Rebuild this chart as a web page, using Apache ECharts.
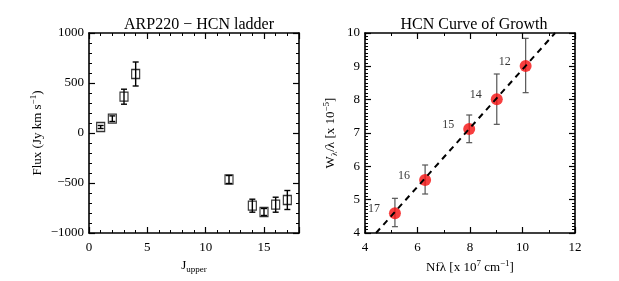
<!DOCTYPE html>
<html>
<head>
<meta charset="utf-8">
<script src="https://cdn.jsdelivr.net/npm/echarts@6/dist/echarts.min.js"></script>
<style>html,body{margin:0;padding:0;background:#fff}#c{width:619px;height:281px}</style>
</head>
<body>
<div id="c"></div>
<script>
// Left panel: HCN ladder
var ladderJ = [1, 2, 3, 4, 12, 14, 15, 16, 17];
var ladderFlux = [60, 143, 363, 590, -465, -727, -790, -717, -670];
var ladderErr = [15, 28, 75, 120, 40, 65, 35, 75, 95];
var ladderXTicks = [0, 5, 10, 15];
var ladderYTicks = [-1000, -500, 0, 500, 1000];

// Right panel: curve of growth
var cogX = [5.14, 6.29, 7.97, 9.02, 10.12];
var cogY = [4.59, 5.59, 7.12, 8.01, 9.01];
var cogLo = [4.19, 5.17, 6.71, 7.26, 8.21];
var cogHi = [5.04, 6.04, 7.54, 8.77, 9.84];
var cogJ = ['17', '16', '15', '14', '12'];
var cogXTicks = [4, 6, 8, 10, 12];
var cogYTicks = [4, 5, 6, 7, 8, 9, 10];
var fitX = [4.42, 11.24];
var fitY = [4.0, 10.0];

var FONT = 'Liberation Serif';
var chart = echarts.init(document.getElementById('c'), null, {renderer: 'canvas'});

function errRender(color, lw, hw) {
  return function (params, api) {
    var x = api.value(0), lo = api.value(1), hi = api.value(2);
    var t = api.coord([x, hi]), b = api.coord([x, lo]);
    var st = {stroke: color, lineWidth: lw};
    return {type: 'group', children: [
      {type: 'line', shape: {x1: t[0], y1: t[1], x2: b[0], y2: b[1]}, style: st},
      {type: 'line', shape: {x1: t[0] - hw, y1: t[1], x2: t[0] + hw, y2: t[1]}, style: st},
      {type: 'line', shape: {x1: b[0] - hw, y1: b[1], x2: b[0] + hw, y2: b[1]}, style: st}
    ]};
  };
}

var axisLine = {show: true, onZero: false, lineStyle: {color: '#000', width: 1.6}};
var tickBase = {show: true, inside: true, length: 6, lineStyle: {color: '#000', width: 1.2}};
var minorBase = {show: true, length: 3, lineStyle: {color: '#000', width: 1}};
var richStyle = {
  a: {fontFamily: FONT, fontSize: 13, color: '#000', lineHeight: 17},
  sub: {fontFamily: FONT, fontSize: 9, color: '#000', verticalAlign: 'bottom', lineHeight: 17, padding: [6, 0, 0, 0]},
  sup: {fontFamily: FONT, fontSize: 9, color: '#000', verticalAlign: 'top', lineHeight: 17, padding: [0, 0, 6, 0]}
};

function mkX(grid, pos, min, max, interval, minorSplit, showLabel, name, gap, ticks) {
  return {
    type: 'value', gridIndex: grid, position: pos, min: min, max: max, interval: interval,
    axisLine: axisLine, axisTick: tickBase,
    minorTick: Object.assign({splitNumber: minorSplit}, minorBase),
    splitLine: {show: false}, minorSplitLine: {show: false},
    axisLabel: {show: showLabel, margin: 8, fontFamily: FONT, fontSize: 13, color: '#000',
      formatter: function (v) { return ticks.indexOf(v) >= 0 ? String(v) : ''; }},
    name: name, nameLocation: 'middle', nameGap: gap,
    nameTextStyle: {rich: richStyle}
  };
}
function mkY(grid, pos, min, max, interval, minorSplit, showLabel, name, gap, ticks, fmt) {
  return {
    type: 'value', gridIndex: grid, position: pos, min: min, max: max, interval: interval,
    axisLine: axisLine, axisTick: tickBase,
    minorTick: Object.assign({splitNumber: minorSplit}, minorBase),
    splitLine: {show: false}, minorSplitLine: {show: false},
    axisLabel: {show: showLabel, margin: 5, fontFamily: FONT, fontSize: 13, color: '#000',
      formatter: function (v) { return ticks.indexOf(v) >= 0 ? fmt(v) : ''; }},
    name: name, nameLocation: 'middle', nameGap: gap, nameRotate: 90,
    nameTextStyle: {rich: richStyle}
  };
}

var fluxFmt = function (v) { return v < 0 ? '\u2212' + Math.abs(v) : String(v); };
var plainFmt = function (v) { return String(v); };

var option = {
  backgroundColor: '#fff',
  animation: false,
  title: [
    {text: 'ARP220 \u2212 HCN ladder', left: 194, top: 12, textAlign: 'center',
      textStyle: {fontFamily: FONT, fontSize: 16, fontWeight: 'normal', color: '#000'}},
    {text: 'HCN Curve of Growth', left: 469, top: 12, textAlign: 'center',
      textStyle: {fontFamily: FONT, fontSize: 16, fontWeight: 'normal', color: '#000'}}
  ],
  grid: [
    {left: 89, top: 33, width: 210, height: 200},
    {left: 365, top: 33, width: 210, height: 200}
  ],
  xAxis: [
    mkX(0, 'bottom', 0, 18, 5, 5, true, '{a|J}{sub|upper}', 20, ladderXTicks),
    mkX(0, 'top', 0, 18, 5, 5, false, '', 0, ladderXTicks),
    mkX(1, 'bottom', 4, 12, 2, 2, true, '{a|Nf\u03bb [x 10}{sup|7}{a| cm}{sup|\u22121}{a|]}', 20, cogXTicks),
    mkX(1, 'top', 4, 12, 2, 2, false, '', 0, cogXTicks)
  ],
  yAxis: [
    mkY(0, 'left', -1000, 1000, 500, 5, true, '{a|Flux (Jy km s}{sup|\u22121}{a|)}', 43, ladderYTicks, fluxFmt),
    mkY(0, 'right', -1000, 1000, 500, 5, false, '', 0, ladderYTicks, fluxFmt),
    mkY(1, 'left', 4, 10, 1, 10, true, '{a|W}{sub|\u03bb}{a|/\u03bb [x 10}{sup|\u22125}{a|]}', 26, cogYTicks, plainFmt),
    mkY(1, 'right', 4, 10, 1, 10, false, '', 0, cogYTicks, plainFmt)
  ],
  series: [
    {
      type: 'custom', xAxisIndex: 0, yAxisIndex: 0, z: 3,
      renderItem: errRender('#000', 1.4, 3),
      data: ladderJ.map(function (j, i) { return [j, ladderFlux[i] - ladderErr[i], ladderFlux[i] + ladderErr[i]]; })
    },
    {
      type: 'scatter', xAxisIndex: 0, yAxisIndex: 0, z: 4,
      symbol: 'rect', symbolSize: [8, 9],
      itemStyle: {color: 'rgba(0,0,0,0)', borderColor: '#000', borderWidth: 1.2},
      data: ladderJ.map(function (j, i) { return [j, ladderFlux[i]]; })
    },
    {
      type: 'custom', xAxisIndex: 2, yAxisIndex: 2, z: 3,
      renderItem: errRender('#555', 1.2, 3),
      data: cogX.map(function (x, i) { return [x, cogLo[i], cogHi[i]]; })
    },
    {
      type: 'scatter', xAxisIndex: 2, yAxisIndex: 2, z: 4,
      symbol: 'circle', symbolSize: 12,
      itemStyle: {color: '#f50f0f'},
      label: {show: true, position: 'inside', offset: [-21, -4], fontFamily: FONT, fontSize: 12, color: '#000',
        formatter: function (p) { return cogJ[p.dataIndex]; }},
      data: cogX.map(function (x, i) { return [x, cogY[i]]; })
    },
    {
      type: 'line', xAxisIndex: 2, yAxisIndex: 2, z: 5,
      symbol: 'none', silent: true,
      lineStyle: {color: '#000', width: 2, type: [6, 5]},
      data: fitX.map(function (x, i) { return [x, fitY[i]]; })
    }
  ]
};
chart.setOption(option);
</script>
</body>
</html>
